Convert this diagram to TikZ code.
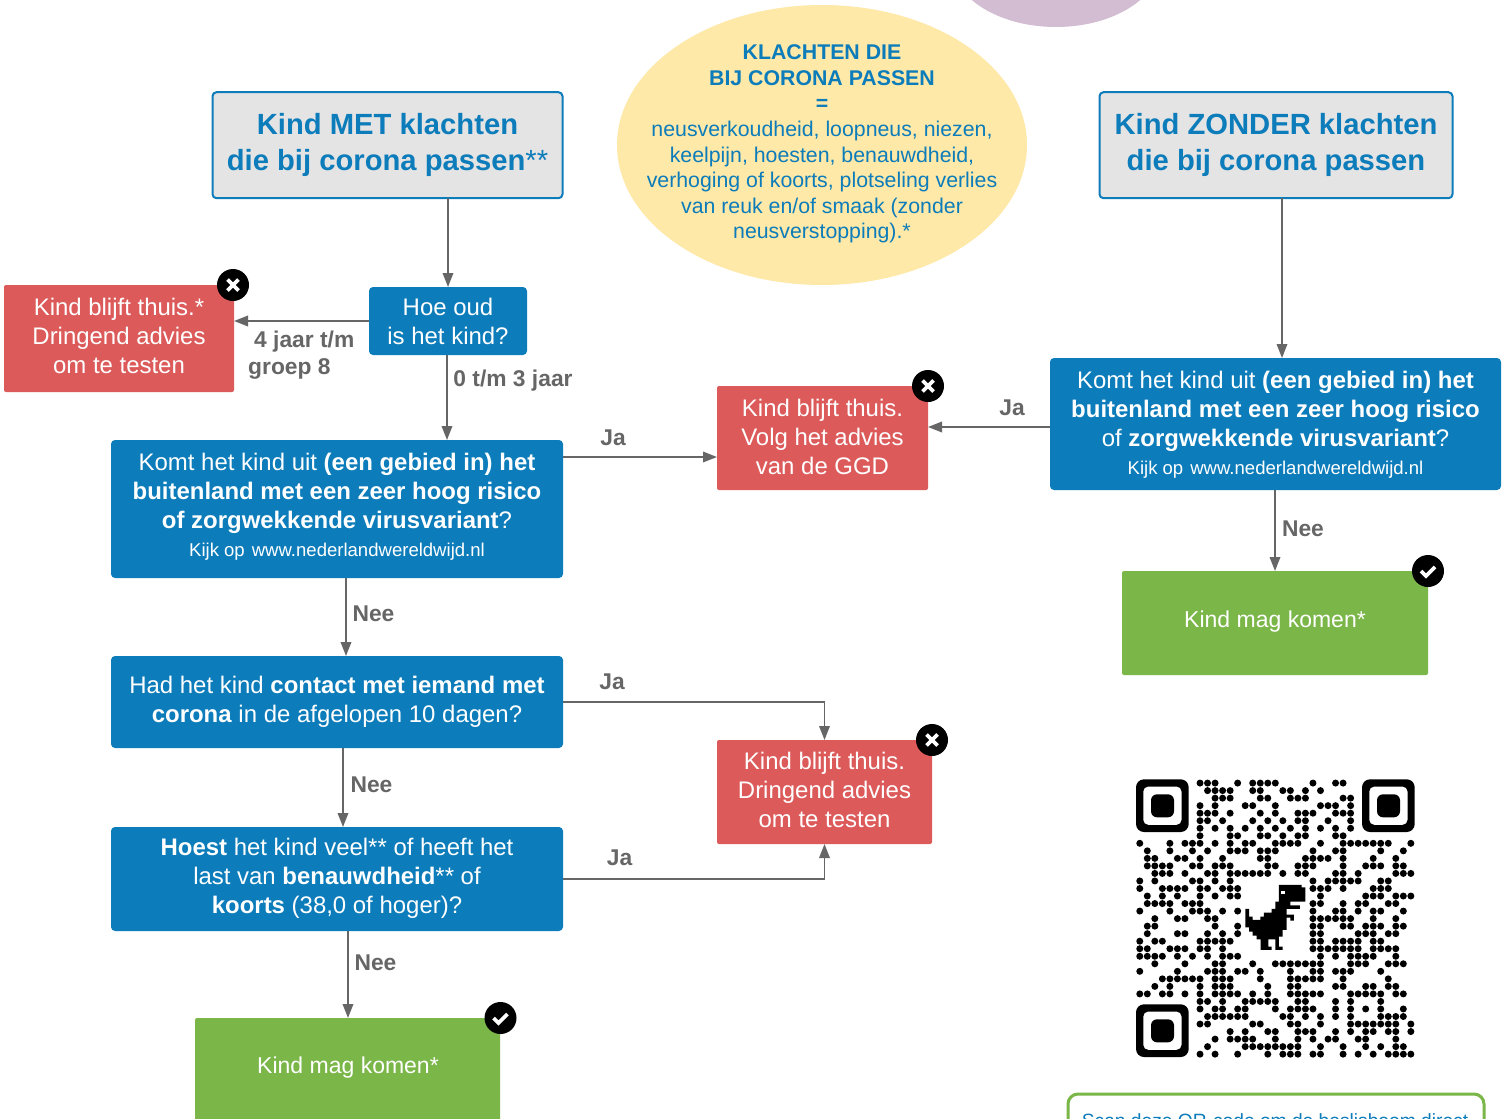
\documentclass[tikz,border=0pt]{standalone}
\usepackage{fontspec}
\setmainfont{Liberation Sans}
\usetikzlibrary{arrows.meta,shapes.geometric}
\definecolor{qblue}{HTML}{0C7CBA}
\definecolor{qgrey}{HTML}{E4E4E4}
\definecolor{qred}{HTML}{DC5A5A}
\definecolor{qgreen}{HTML}{7AB648}
\definecolor{qyellow}{HTML}{FEE9A8}
\definecolor{qpurple}{HTML}{D3BDD3}
\definecolor{qline}{HTML}{666666}
\tikzset{
  base/.style={inner sep=0pt,outer sep=0pt,align=center,rounded corners=4pt,text=white,font=\fontsize{23.95}{29}\selectfont},
  headbox/.style={base,fill=qgrey,draw=qblue,line width=2pt,text=qblue,font=\fontsize{29.2}{36}\selectfont},
  askbox/.style={base,fill=qblue},
  redbox/.style={base,fill=qred,rounded corners=2pt},
  greenbox/.style={base,fill=qgreen,rounded corners=2pt,font=\fontsize{23}{29}\selectfont},
  link/.style={draw=qline,line width=1.8pt,-{Triangle[length=14pt,width=10.5pt]}},
  lab/.style={inner sep=0pt,text=qline,font=\fontsize{22.8}{27}\selectfont\bfseries,align=left},
  badge/.style={circle,fill=black,minimum size=32pt,inner sep=0pt}
}
\newcommand{\smalltxt}[1]{{\fontsize{18.55}{22}\selectfont #1}}
\newcommand{\kijk}{\smalltxt{Kijk op\hspace{7pt}www.nederlandwereldwijd.nl}}
% invisible rules that shift a centred text block: depth below the last line, height above the first
\newcommand{\lift}[1]{\rule[-#1pt]{0pt}{#1pt}}
\newcommand{\sink}[1]{\rule{0pt}{#1pt}}
\newcommand{\badgex}[3]{\node[badge] (#1) at (#2,#3) {};
  \draw[draw=white,line width=3.6pt] ([shift={(-5.5,-5.5)}]#1.center) -- ([shift={(5.5,5.5)}]#1.center);
  \draw[draw=white,line width=3.6pt] ([shift={(-5.5,5.5)}]#1.center) -- ([shift={(5.5,-5.5)}]#1.center);}
\newcommand{\badgecheck}[3]{\node[badge] (#1) at (#2,#3) {};
  \draw[draw=white,line width=3.6pt] ([shift={(-7,0)}]#1.center) -- ([shift={(-2,5)}]#1.center) -- ([shift={(7,-4)}]#1.center);}
\newcommand{\finder}[2]{
  \fill[black,rounded corners=8pt] (#1,#2) rectangle ++(52.7,52.7);
  \fill[white,rounded corners=5pt] (#1+7.3,#2+7.3) rectangle ++(38.2,38.2);
  \fill[black,rounded corners=6pt] (#1+15,#2+15) rectangle ++(23,23);}
\begin{document}
\begin{tikzpicture}[x=1pt,y=-1pt]
\clip (0,0) rectangle (1505,1119);
\fill[white] (0,0) rectangle (1505,1119);
% background shapes
\fill[qpurple] (1056,-40) ellipse [x radius=105,y radius=67];
\fill[qyellow] (822,145) ellipse [x radius=205,y radius=140];
\node[inner sep=0pt,text=qblue,align=center,font=\fontsize{21.3}{25.6}\selectfont] (klachten) at (822,144)
 {\textbf{KLACHTEN DIE}\\\textbf{BIJ CORONA PASSEN}\\\textbf{=}\\neusverkoudheid, loopneus, niezen,\\keelpijn, hoesten, benauwdheid,\\verhoging of koorts, plotseling verlies\\van reuk en/of smaak (zonder\\neusverstopping).*};
% heads
\node[headbox,minimum width=350pt,minimum height=106pt] (met) at (387.5,145.2) {\textbf{Kind MET klachten}\\\textbf{die bij corona passen}**\lift{7}};
\node[headbox,minimum width=353pt,minimum height=106pt] (zonder) at (1276,145.2) {\textbf{Kind ZONDER klachten}\\\textbf{die bij corona passen}\lift{7}};
% left column
\node[askbox,minimum width=158pt,minimum height=68pt] (hoe) at (448,321) {Hoe oud\\is het kind?};
\node[redbox,minimum width=230pt,minimum height=107pt] (thuis) at (119,338.5) {Kind blijft thuis.*\\Dringend advies\\om te testen\lift{6}};
\node[askbox,minimum width=452pt,minimum height=138pt] (gebied) at (337,509) {Komt het kind uit \textbf{(een gebied in) het}\\\textbf{buitenland met een zeer hoog risico}\\\textbf{of zorgwekkende virusvariant}?\\[-1pt]\kijk\lift{8}};
\node[askbox,minimum width=452pt,minimum height=92pt] (contact) at (337,702) {Had het kind \textbf{contact met iemand met}\\\textbf{corona} in de afgelopen 10 dagen?};
\node[askbox,minimum width=452pt,minimum height=104pt] (hoest) at (337,879) {\textbf{Hoest} het kind veel** of heeft het\\last van \textbf{benauwdheid}** of\\\textbf{koorts} (38,0 of hoger)?\lift{7}};
\node[greenbox,minimum width=305pt,minimum height=112pt] (komen) at (347.5,1074) {};
\node[inner sep=0pt,text=white,font=\fontsize{23}{29}\selectfont] (komentxt) at (348,1068) {Kind mag komen*};
% middle
\node[redbox,minimum width=211pt,minimum height=104pt] (advies) at (822.5,438) {Kind blijft thuis.\\Volg het advies\\van de GGD\lift{3}};
\node[redbox,minimum width=215pt,minimum height=104pt] (test) at (824.5,792) {Kind blijft thuis.\\Dringend advies\\om te testen\lift{5}};
% right
\node[askbox,minimum width=451pt,minimum height=132pt] (gebiedr) at (1275.5,424) {\sink{19}Komt het kind uit \textbf{(een gebied in) het}\\\textbf{buitenland met een zeer hoog risico}\\of \textbf{zorgwekkende virusvariant}?\\[-1pt]\kijk};
\node[greenbox,minimum width=306pt,minimum height=104pt] (komenr) at (1275,623) {Kind mag komen*\lift{7}};
% connectors
\coordinate (ya) at (0,457);
\coordinate (yb) at (0,427);
\draw[link] (hoe.north |- met.south) -- (hoe.north);
\draw[link] (hoe.west) -- (thuis.east |- hoe.west);
\draw[link] ([xshift=-1pt]hoe.south) -- ([xshift=-1pt]hoe.south |- gebied.north);
\draw[link] (gebied.east |- ya) -- (advies.west |- ya);
\draw[link] (gebiedr.west |- yb) -- (advies.east |- yb);
\coordinate (zx) at (1282,0);
\draw[link] (zx |- zonder.south) -- (zx |- gebiedr.north);
\draw[link] (komenr.north |- gebiedr.south) -- (komenr.north);
\coordinate (lx) at (346,0);
\draw[link] (lx |- gebied.south) -- (lx |- contact.north);
\coordinate (mx) at (343,0);
\draw[link] (mx |- contact.south) -- (mx |- hoest.north);
\coordinate (nx) at (348,0);
\draw[link] (nx |- hoest.south) -- (nx |- komen.north);
\draw[link] (contact.east) -| (test.north);
\draw[link] (hoest.east) -| (test.south);
% badges
\badgex{bthuis}{233}{285}
\badgex{badvies}{928}{386}
\badgex{btest}{932}{740}
\badgecheck{bkomen}{500.5}{1018}
\badgecheck{bkomenr}{1428}{571}
% labels
\node[lab,anchor=west] (l4) at (248,355.5) {\hspace{6pt}4 jaar t/m\\groep 8};
\node[lab] (l0) at (513,381) {0 t/m 3 jaar};
\node[lab] (lja1) at (613,437.5) {Ja};
\node[lab] (lja2) at (1012,408) {Ja};
\node[lab] (lnee1) at (1303,529) {Nee};
\node[lab] (lnee2) at (373.5,614) {Nee};
\node[lab] (lja3) at (612,681.5) {Ja};
\node[lab] (lnee3) at (371.5,784.5) {Nee};
\node[lab] (lja4) at (619.5,857.5) {Ja};
\node[lab] (lnee4) at (375.5,962.5) {Nee};
% QR code
\finder{1136}{779.3}
\finder{1362}{779.3}
\finder{1136}{1004.3}
\foreach \r/\cols in {
0/{8,9,10,13,15,16,17,18,23,26,27},
1/{9,10,11,12,15,16,19,20,22,24},
2/{10,11,12,16,17,20,21,22,27,28},
3/{8,10,14,15,18,24,25,26,28},
4/{8,9,10,12,16,18,21,22,23,26,27,28},
5/{8,9,11,15,17,19,21,22,25,28},
6/{8,10,12,14,16,18,20,22,24,26,28},
7/{8,12,13,16,17,19,21,22,26,27},
8/{0,4,6,7,8,10,12,14,15,18,19,20,21,24,27,28,29,30,31,32,33,36},
9/{1,4,7,9,12,13,14,16,17,18,23,26,27,32,35},
10/{1,2,5,6,8,11,16,17,22,23,24,25,27,31,34},
11/{1,2,3,4,7,8,10,11,12,17,18,21,22,23,27,30,31,32,34,35},
12/{2,3,4,6,9,10,12,13,14,15,16,17,19,21,22,26,27,29,34,35,36},
13/{0,2,7,8,10,12,23,25,26,27,28,29,32,33},
14/{0,3,4,5,6,8,9,11,12,13,23,24,25,27,31,32,33},
15/{1,3,5,8,10,12,13,24,30,31,32,34,35,36},
16/{1,2,3,4,6,7,8,23,24,27,29,30,33,34},
17/{0,4,7,8,9,11,13,23,26,27,29,31,32,35},
18/{2,5,6,9,10,23,24,25,26,27,28,31,34},
19/{1,2,10,13,23,24,27,28,30,31,32,34,35},
20/{1,5,6,9,11,13,23,24,29,30,31,33,34},
21/{0,2,3,8,9,10,11,12,23,24,26,27,28,29,31,32},
22/{0,1,4,5,6,8,9,11,23,24,25,26,27,28,29,31,32,33,34},
23/{0,1,2,3,5,7,9,11,12,13,24,26,28,29,30,31,34},
24/{2,6,10,11,15,18,19,20,21,22,23,24,28,29,30,33,34,35},
25/{0,5,9,10,11,13,14,16,20,23,24,26,27,28,32},
26/{3,4,5,6,7,8,10,11,12,16,20,21,22,23,24,27,33},
27/{2,4,8,10,11,12,17,20,21,26,27,30,31,33,34},
28/{0,1,3,4,6,8,10,11,12,13,15,17,20,21,22,23,24,28,29,30,31,32,34,35},
29/{8,9,11,14,15,16,17,18,21,22,26,28,32},
30/{8,10,11,13,14,18,20,21,22,23,26,28,30,32,35},
31/{9,10,11,12,13,14,19,20,22,24,26,28,32,33,34,35},
32/{8,9,15,16,20,21,24,28,29,30,31,32,33,34,36},
33/{12,14,17,18,21,22,23,26,28,30,31,33,34,36},
34/{10,12,13,14,15,18,21,23,25,26,29,30,34},
35/{9,14,15,16,17,18,19,20,21,24,27,30,32,34,35},
36/{8,10,13,17,19,20,21,23,24,27,29,31,33,34,35,36}}
{ \foreach \c in \cols { \fill[black] ({1136+7.53*(\c+0.5)},{779.3+7.53*(\r+0.5)}) circle (3.5); } }
% dinosaur (reference crop coordinates)
\begin{scope}[shift={(1120,770)},x=0.3333pt,y=-0.3333pt]
\fill[black] (477,345) -- (545,345) -- (545,352) -- (556,352) -- (556,395) -- (511,395) -- (511,406) -- (540,406) -- (540,417) -- (500,417) -- (500,434) -- (522,434) -- (522,452) -- (511,452) -- (511,443) -- (500,443) -- (500,480) -- (488,480) -- (488,500) -- (477,500) -- (477,530) -- (488,530) -- (488,540) -- (466,540) -- (466,508) -- (445,508) -- (445,530) -- (455,530) -- (455,540) -- (422,540) -- (422,508) -- (410,508) -- (410,497) -- (398,497) -- (398,485) -- (387,485) -- (387,472) -- (376,472) -- (376,417) -- (387,417) -- (387,440) -- (398,440) -- (398,450) -- (421,450) -- (421,440) -- (432,440) -- (432,428) -- (455,428) -- (455,417) -- (466,417) -- (466,395) -- (477,395) -- cycle;
\fill[white] (483,362) rectangle (494,373);
\end{scope}
% bottom note
\node[base,draw=qgreen,fill=white,line width=3pt,rounded corners=10pt,minimum width=416pt,minimum height=120pt] (note) at (1276,1154) {};
\node[inner sep=0pt,text=qblue,font=\fontsize{19.2}{24}\selectfont,anchor=base] (notetxt) at (1275,1127) {Scan deze QR-code om de beslisboom direct};
\end{tikzpicture}
\end{document}
